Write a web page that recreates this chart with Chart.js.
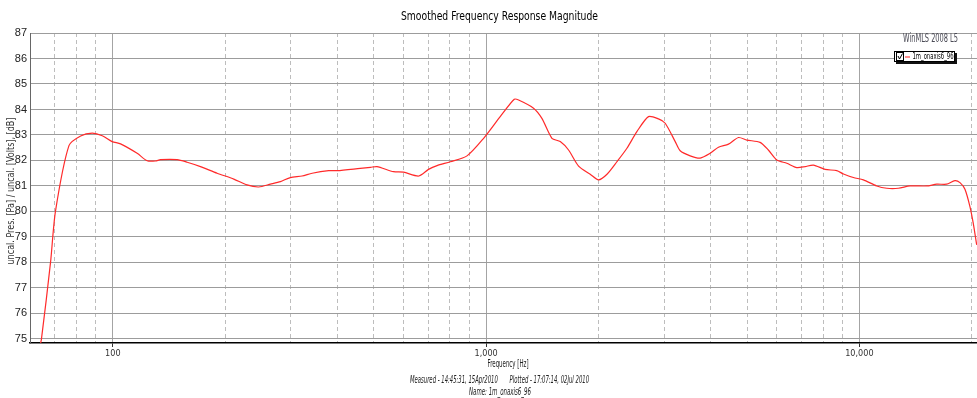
<!DOCTYPE html>
<html>
<head>
<meta charset="utf-8">
<script src="https://cdn.jsdelivr.net/npm/chart.js@4.4.1/dist/chart.umd.min.js"></script>
<style>
  html, body { margin: 0; padding: 0; background: #fff; }
  canvas { display: block; }
</style>
</head>
<body>
<canvas id="fr" width="977" height="398"></canvas>
<script>
// smoothed on-axis response, 1/6 oct style curve
const freqHz = [63.5, 64.4, 68.1, 70.2, 76.3, 82.0, 88.1, 93.7, 99.6, 104.9,
  116.2, 123.6, 130.1, 134.2, 148.7, 158.2, 171.7, 190.3, 210.9, 228.9,
  246, 264.4, 281.2, 299, 321.4, 342, 378.7, 399, 460, 490,
  510, 565, 601, 660, 701, 739, 802, 889, 985, 1091,
  1190, 1222, 1340, 1411, 1501, 1580, 1663, 1769, 1901, 2001,
  2108, 2241, 2384, 2535, 2723, 2896, 3019, 3211, 3311, 3522,
  3746, 3984, 4193, 4460, 4745, 4995, 5420, 5705, 6009, 6391,
  6797, 7154, 7532, 8093, 8698, 9064, 9638, 10250, 11130, 11840,
  12720, 13670, 15150, 16120, 17130, 18030, 18600, 19180, 19780, 20190, 20620];
const levelDb = [74.6, 75.0, 78.0, 80.0, 82.58, 82.96, 83.07, 82.97, 82.74, 82.65,
  82.28, 81.99, 81.98, 82.03, 82.03, 81.93, 81.76, 81.5, 81.27, 81.04,
  80.96, 81.07, 81.17, 81.33, 81.39, 81.5, 81.6, 81.6, 81.69, 81.73,
  81.76, 81.56, 81.54, 81.39, 81.65, 81.8, 81.95, 82.18, 82.87, 83.72,
  84.4, 84.37, 84.05, 83.65, 82.87, 82.74, 82.41, 81.78, 81.46, 81.24,
  81.46, 81.95, 82.48, 83.13, 83.72, 83.63, 83.46, 82.74, 82.38, 82.18,
  82.09, 82.28, 82.52, 82.64, 82.9, 82.8, 82.71, 82.41, 82.02, 81.89,
  81.72, 81.76, 81.82, 81.65, 81.6, 81.47, 81.33, 81.24, 81.0, 80.91,
  80.91, 81.0, 81.0, 81.07, 81.07, 81.21, 81.13, 80.87, 80.19, 79.53, 78.69];

// axis ticks
const yTicks = [75, 76, 77, 78, 79, 80, 81, 82, 83, 84, 85, 86, 87];
const xGridHz = [70, 80, 90, 100, 200, 300, 400, 500, 600, 700, 800, 900,
  1000, 2000, 3000, 4000, 5000, 6000, 7000, 8000, 9000, 10000, 20000];
const xLabelHz = [100, 1000, 10000];
const xLabelText = ['100', '1,000', '10,000'];

const seriesName = '1m_onaxis6_96';
const chartTitle = 'Smoothed Frequency Response Magnitude';
const yTitle = 'uncal. Pres. [Pa] / uncal. [Volts], [dB]';
const xTitle = 'Frequency [Hz]';
const footLine1 = 'Measured - 14:45:31, 15Apr2010       Plotted - 17:07:14, 02Jul 2010';
const footLine2 = 'Name: 1m_onaxis6_96';
const brand = 'WinMLS 2008 L5';

const NARROW = '"DejaVu Sans Condensed", "Liberation Sans", Arial, sans-serif';
const isDecade = v => xLabelHz.includes(v);

// draw text squeezed/stretched to a given width around its anchor
function fitText(ctx, text, x, y, w) {
  const m = ctx.measureText(text).width || 1;
  ctx.save();
  ctx.translate(x, y);
  ctx.scale(w / m, 1);
  ctx.fillText(text, 0, 0);
  ctx.restore();
}

// texts and the little series box drawn on top of the plot
const decorations = {
  id: 'decorations',
  afterDraw(chart) {
    const ctx = chart.ctx;
    ctx.save();
    ctx.textBaseline = 'middle';
    ctx.fillStyle = '#000';

    ctx.textAlign = 'center';
    ctx.font = '13px ' + NARROW;
    fitText(ctx, chartTitle, 499.5, 17, 197);

    ctx.fillStyle = '#222';
    ctx.font = '10px ' + NARROW;
    fitText(ctx, xTitle, 508, 364, 41);
    ctx.font = 'italic 10px ' + NARROW;
    fitText(ctx, footLine1, 499.5, 380, 179);
    fitText(ctx, footLine2, 500, 392, 62);

    // rotated y title
    ctx.save();
    ctx.translate(11, 191);
    ctx.rotate(-Math.PI / 2);
    ctx.font = '10px ' + NARROW;
    ctx.fillStyle = '#333';
    fitText(ctx, yTitle, 0, 0, 147);
    ctx.restore();

    ctx.textAlign = 'right';
    ctx.font = '12px ' + NARROW;
    ctx.fillStyle = '#4a4a55';
    fitText(ctx, brand, 958, 39, 55);

    // series box with a thin drop shadow
    ctx.fillStyle = '#111';
    ctx.fillRect(955, 53, 2, 11);
    ctx.fillRect(896, 62, 61, 2);
    ctx.fillStyle = '#fff';
    ctx.fillRect(894, 51, 61, 11);
    ctx.strokeStyle = '#000';
    ctx.lineWidth = 1;
    ctx.strokeRect(894.5, 51.5, 60, 10);
    ctx.strokeRect(896.5, 52.5, 7, 8);
    ctx.beginPath();
    ctx.moveTo(898, 56);
    ctx.lineTo(899.5, 59);
    ctx.lineTo(902.5, 53.5);
    ctx.stroke();
    ctx.strokeStyle = '#ff2020';
    ctx.beginPath();
    ctx.moveTo(905, 57);
    ctx.lineTo(910, 57);
    ctx.stroke();
    ctx.fillStyle = '#000';
    ctx.textAlign = 'left';
    ctx.font = '9px ' + NARROW;
    fitText(ctx, seriesName, 912.5, 57, 41);
    ctx.restore();
  }
};

new Chart(document.getElementById('fr'), {
  type: 'line',
  data: {
    datasets: [{
      label: seriesName,
      data: freqHz.map((f, i) => ({ x: f, y: levelDb[i] })),
      borderColor: '#ff2a2a',
      borderWidth: 1.2,
      pointRadius: 0,
      tension: 0.25
    }]
  },
  options: {
    responsive: false,
    devicePixelRatio: 1,
    animation: false,
    layout: { padding: { top: 33, left: 0, right: 0, bottom: 0 } },
    plugins: { legend: { display: false }, title: { display: false }, tooltip: { enabled: false } },
    scales: {
      x: {
        type: 'logarithmic',
        min: 60,
        max: 20660,
        afterBuildTicks: s => { s.ticks = xGridHz.map(v => ({ value: v, major: isDecade(v) })); },
        afterFit: s => { s.height = 55; s.paddingLeft = 0; s.paddingRight = 0; },
        grid: {
          color: c => c.tick && isDecade(c.tick.value) ? '#a4a4a4' : '#bdbdbd',
          lineWidth: 1,
          tickLength: 4,
          tickColor: c => c.tick && isDecade(c.tick.value) ? '#333' : 'rgba(0,0,0,0)'
        },
        border: {
          color: '#000',
          width: 1.5,
          dash: c => (c.tick && !isDecade(c.tick.value)) ? [4, 3] : []
        },
        ticks: {
          autoSkip: false,
          maxRotation: 0,
          padding: 1,
          color: '#333',
          font: { family: NARROW, size: 9 },
          callback: v => {
            const i = xLabelHz.indexOf(v);
            return i >= 0 ? xLabelText[i] : '';
          }
        }
      },
      y: {
        min: 74.84,
        max: 87,
        afterBuildTicks: s => { s.ticks = yTicks.map(v => ({ value: v })); },
        afterFit: s => { s.width = 30; s.paddingTop = 0; s.paddingBottom = 0; },
        grid: { color: '#9c9c9c', lineWidth: 1, drawTicks: false },
        border: { color: '#666', width: 1 },
        ticks: {
          padding: 3,
          color: '#222',
          font: { family: 'Liberation Sans, Arial, sans-serif', size: 11 }
        }
      }
    }
  },
  plugins: [decorations]
});
</script>
</body>
</html>
